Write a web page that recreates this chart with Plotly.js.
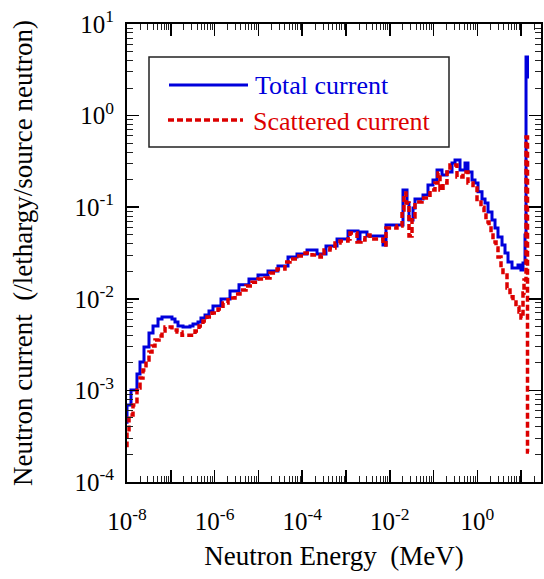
<!DOCTYPE html>
<html>
<head>
<meta charset="utf-8">
<script src="https://cdn.plot.ly/plotly-3.0.1.min.js"></script>
<style>html,body{margin:0;padding:0;background:#fff;}#chart{width:544px;height:579px;}</style>
</head>
<body>
<div id="chart"></div>
<script>
// Bin left edges (MeV) and values (/lethargy/source neutron); last edge closes the final bin
const totalEdges = [9e-9, 1e-8, 1.234e-8, 1.690e-8, 1.982e-8, 2.443e-8, 3.177e-8, 3.926e-8, 5.105e-8, 6.295e-8,
  1.064e-7, 1.247e-7, 1.459e-7, 1.901e-7, 2.742e-7, 3.214e-7, 4.178e-7, 4.887e-7, 6.039e-7, 7.447e-7, 9.183e-7,
  1.400e-6, 2.249e-6, 3.606e-6, 6.095e-6, 9.795e-6, 1.656e-5, 2.799e-5, 4.742e-5, 7.603e-5, 1.288e-4, 2.178e-4,
  3.491e-4, 6.237e-4, 1.112e-3, 1.879e-3, 2.089e-3, 3.013e-3, 6.998e-3, 8.185e-3, 2.000e-2, 2.472e-2, 2.742e-2,
  3.388e-2, 3.758e-2, 5.728e-2, 7.447e-2, 9.683e-2, 0.1197, 0.1556, 0.2023, 0.2630, 0.3083, 0.4009, 0.5212,
  0.6095, 0.7534, 0.8810, 1.033, 1.274, 1.493, 1.746, 2.153, 2.523, 2.951, 3.648, 4.266, 4.999, 6.166, 8.453,
  9.886, 10.99, 12.22, 12.88, 13.93, 15.07];
const totalCurrent = [4.5e-4, 6.93e-4, 1.01e-3, 1.51e-3, 2.04e-3, 2.98e-3, 4.24e-3, 5.05e-3, 6.01e-3, 6.32e-3,
  6.01e-3, 5.58e-3, 5.05e-3, 4.92e-3, 5.05e-3, 5.31e-3, 5.58e-3, 6.17e-3, 6.65e-3, 7.36e-3, 8.35e-3,
  9.95e-3, 1.22e-2, 1.42e-2, 1.64e-2, 1.82e-2, 2.01e-2, 2.28e-2, 2.86e-2, 3.08e-2, 3.41e-2, 3.08e-2,
  3.77e-2, 4.50e-2, 5.50e-2, 4.39e-2, 5.36e-2, 4.85e-2, 3.87e-2, 6.40e-2, 0.154, 0.111, 7.25e-2,
  9.80e-2, 0.123, 0.136, 0.175, 0.198, 0.255, 0.225, 0.242, 0.304, 0.327, 0.255, 0.304,
  0.242, 0.198, 0.184, 0.147, 0.123, 0.111, 8.87e-2, 7.25e-2, 5.93e-2, 4.73e-2, 3.87e-2, 3.16e-2, 2.52e-2, 2.17e-2, 2.34e-2,
  2.06e-2, 2.46e-2, 4.97e-2, 4.36, 2.64];

const scatEdges = [9e-9, 1e-8, 1.111e-8, 1.371e-8, 1.690e-8, 1.982e-8, 2.317e-8, 2.716e-8, 3.177e-8, 3.724e-8,
  4.355e-8, 5.383e-8, 6.295e-8, 7.379e-8, 1.064e-7, 1.387e-7, 1.803e-7, 3.573e-7, 4.406e-7, 5.433e-7, 6.699e-7,
  8.730e-7, 1.197e-6, 1.556e-6, 2.023e-6, 2.924e-6, 3.802e-6, 5.212e-6, 7.145e-6, 9.795e-6, 1.416e-5, 1.841e-5,
  2.661e-5, 4.046e-5, 5.260e-5, 7.603e-5, 1.159e-4, 1.675e-4, 2.547e-4, 3.148e-4, 4.315e-4, 5.610e-4, 7.295e-4,
  1.112e-3, 1.233e-3, 1.782e-3, 2.198e-3, 2.716e-3, 3.532e-3, 6.998e-3, 8.185e-3, 1.459e-2, 1.901e-2, 2.109e-2,
  2.344e-2, 2.742e-2, 3.214e-2, 3.758e-2, 5.433e-2, 8.279e-2, 0.1076, 0.1259, 0.1400, 0.1641, 0.2023, 0.2366,
  0.3420, 0.4688, 0.6095, 0.7943, 0.9795, 1.208, 1.416, 1.570, 1.841, 2.046, 2.270, 2.661, 2.951, 3.459, 3.837,
  4.742, 5.546, 6.501, 7.603, 8.913, 9.886, 10.99, 11.59, 12.88, 13.93, 15.07];
const scatteredCurrent = [2.5e-4, 3.52e-4, 5.39e-4, 6.93e-4, 1.06e-3, 1.37e-3, 1.67e-3, 2.15e-3, 2.62e-3, 3.05e-3,
  3.55e-3, 3.93e-3, 4.45e-3, 4.92e-3, 4.56e-3, 4.34e-3, 4.0e-3, 4.45e-3, 5.05e-3, 5.73e-3, 6.32e-3,
  7.00e-3, 7.74e-3, 8.99e-3, 1.02e-2, 1.13e-2, 1.25e-2, 1.38e-2, 1.52e-2, 1.64e-2, 1.69e-2, 1.91e-2,
  2.11e-2, 2.52e-2, 2.72e-2, 2.93e-2, 3.16e-2, 3.01e-2, 2.86e-2, 3.41e-2, 3.59e-2, 4.06e-2, 4.28e-2,
  4.50e-2, 5.23e-2, 4.17e-2, 4.39e-2, 4.97e-2, 4.50e-2, 3.87e-2, 5.93e-2, 6.24e-2, 9.31e-2, 0.143,
  0.111, 4.85e-2, 7.82e-2, 0.114, 0.126, 0.154, 0.184, 0.236, 0.154, 0.184, 0.242, 0.289,
  0.214, 0.242, 0.184, 0.162, 0.114, 0.100, 8.22e-2, 6.89e-2, 5.93e-2, 4.97e-2, 4.17e-2, 3.59e-2, 2.86e-2, 2.17e-2, 1.82e-2,
  1.31e-2, 1.05e-2, 9.23e-3, 8.13e-3, 7.18e-3, 6.17e-3, 1.16e-2, 1.60e-2, 0.584, 2.13e-4];

const xTickVals = [1e-8, 1e-7, 1e-6, 1e-5, 1e-4, 1e-3, 1e-2, 1e-1, 1e0, 1e1];
const xTickText = ['10<sup>-8</sup>', '', '10<sup>-6</sup>', '', '10<sup>-4</sup>', '', '10<sup>-2</sup>', '', '10<sup>0</sup>', ''];
const yTickVals = [1e-4, 1e-3, 1e-2, 1e-1, 1e0, 1e1];
const yTickText = ['10<sup>-4</sup>', '10<sup>-3</sup>', '10<sup>-2</sup>', '10<sup>-1</sup>', '10<sup>0</sup>', '10<sup>1</sup>'];

const seriesNames = ['Total current', 'Scattered current'];
const BLUE = '#0000dc', RED = '#dc0000';
const FONT = 'Liberation Serif, Times New Roman, serif';

function stepY(vals) { return vals.concat([vals[vals.length - 1]]); }

const traces = [
  {x: totalEdges, y: stepY(totalCurrent), type: 'scatter', mode: 'lines', name: seriesNames[0],
   line: {shape: 'hv', color: BLUE, width: 3}},
  {x: scatEdges, y: stepY(scatteredCurrent), type: 'scatter', mode: 'lines', name: seriesNames[1],
   line: {shape: 'hv', color: RED, width: 3.5, dash: '6px,3px'}}
];

// plot area pixel geometry (for legend placement in paper coords)
const L = 127, R = 3, T = 24, B = 97, W = 544, H = 579;
const pw = W - L - R, ph = H - T - B;
const px = v => (v - L) / pw;
const py = v => (H - B - v) / ph;

const axisCommon = {
  type: 'log', showline: true, linewidth: 2, linecolor: '#000', mirror: 'allticks',
  ticks: 'inside', ticklen: 12, tickwidth: 1.5, tickcolor: '#000',
  showgrid: false, zeroline: false, tickmode: 'array',
  tickfont: {family: FONT, size: 25, color: '#000'},
  minor: {ticks: 'inside', ticklen: 6, tickwidth: 1, tickcolor: '#222', dtick: 'D1', showgrid: false}
};

const layout = {
  width: W, height: H,
  margin: {l: L, r: R, t: T, b: B},
  paper_bgcolor: '#fff', plot_bgcolor: '#fff',
  showlegend: false,
  font: {family: FONT, color: '#000'},
  xaxis: Object.assign({}, axisCommon, {
    range: [-8, 1.452], tickvals: xTickVals, ticktext: xTickText, ticklabelstandoff: 16,
    title: {text: 'Neutron Energy\u00a0 (MeV)', font: {family: FONT, size: 27, color: '#000'}, standoff: 12}
  }),
  yaxis: Object.assign({}, axisCommon, {
    range: [-4, 1], tickvals: yTickVals, ticktext: yTickText, ticklabelstandoff: 6,
    title: {text: 'Neutron current\u00a0 (/lethargy/source neutron)', font: {family: FONT, size: 27, color: '#000'}, standoff: 34}
  }),
  shapes: [
    {type: 'rect', xref: 'paper', yref: 'paper', x0: px(149), x1: px(449), y0: py(147), y1: py(57),
     line: {color: '#222', width: 1.5}, fillcolor: 'rgba(0,0,0,0)'},
    {type: 'line', xref: 'paper', yref: 'paper', x0: px(169), x1: px(248), y0: py(85), y1: py(85),
     line: {color: BLUE, width: 3}},
    {type: 'line', xref: 'paper', yref: 'paper', x0: px(168), x1: px(243), y0: py(120), y1: py(120),
     line: {color: RED, width: 3.5, dash: '6px,3px'}}
  ],
  annotations: [
    {xref: 'paper', yref: 'paper', x: px(253), y: py(85), xanchor: 'left', yanchor: 'middle', showarrow: false,
     text: seriesNames[0], font: {family: FONT, size: 26, color: BLUE}},
    {xref: 'paper', yref: 'paper', x: px(251), y: py(121), xanchor: 'left', yanchor: 'middle', showarrow: false,
     text: seriesNames[1], font: {family: FONT, size: 26, color: RED}}
  ]
};

Plotly.newPlot('chart', traces, layout, {staticPlot: true, displayModeBar: false});
</script>
</body>
</html>
